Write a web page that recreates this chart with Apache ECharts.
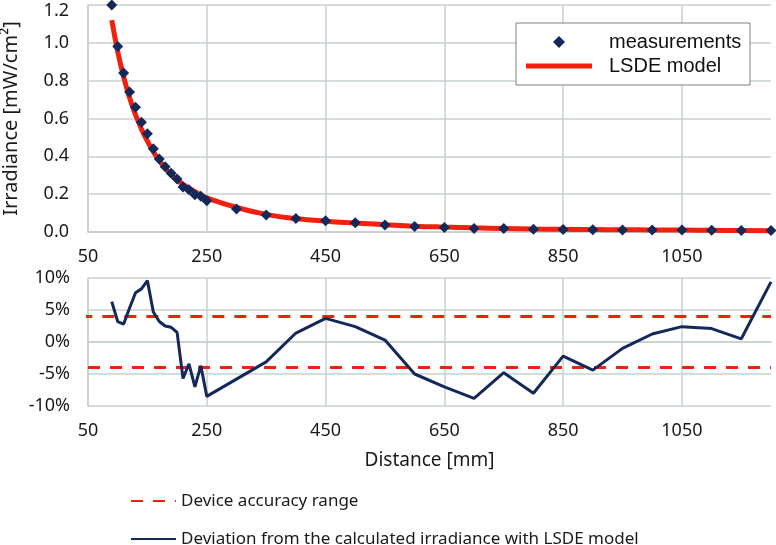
<!DOCTYPE html>
<html>
<head>
<meta charset="utf-8">
<script src="https://cdn.jsdelivr.net/npm/echarts@6/dist/echarts.min.js"></script>
<style>
  html,body{margin:0;padding:0;background:#fff;}
  #chart{width:776px;height:545px;}
</style>
</head>
<body>
<div id="chart"></div>
<script>
'use strict';

/* ---------- data ---------- */
const distance = [90,100,110,120,130,140,150,160,170,180,190,200,210,220,230,240,250,
  300,350,400,450,500,550,600,650,700,750,800,850,900,950,1000,1050,1100,1150,1200];
// measured irradiance, mW/cm2
const measured = [1.20,0.98,0.84,0.74,0.66,0.58,0.52,0.44,0.386,0.345,0.31,0.28,0.238,0.224,0.197,0.189,0.165,
  0.122,0.090,0.072,0.060,0.049,0.037,0.029,0.024,0.019,0.018,0.015,0.013,0.012,0.011,0.011,0.010,0.009,0.008,0.008];
// LSDE model curve, mW/cm2
const model = [1.12,0.955,0.82,0.71,0.62,0.545,0.48,0.425,0.378,0.338,0.303,0.275,0.252,0.232,0.213,0.196,0.180,
  0.130,0.093,0.071,0.057,0.047,0.038,0.031,0.026,0.022,0.019,0.016,0.014,0.013,0.012,0.011,0.010,0.009,0.008,0.007];
// deviation from model, %
const deviation = [6.3,3.2,2.8,5.3,7.7,8.3,9.6,4.7,3.2,2.5,2.3,1.5,-5.7,-3.4,-7.0,-3.7,-8.5,
  -5.8,-3.1,1.4,3.7,2.4,0.3,-5.0,-7.0,-8.8,-4.8,-8.0,-2.2,-4.4,-1.0,1.25,2.4,2.1,0.5,9.4];
// device accuracy band, %
const accUpper = [[0,4],[1200,4]];
const accLower = [[50,-4],[1200,-4]];

const ACC = 'Device accuracy range';
const DEV = 'Deviation from the calculated irradiance with LSDE model';

/* ---------- styling ---------- */
const C = {navy:'#14285a', red:'#f2200c', grid:'#c8d0ce', text:'#1a1a1a'};
const SANS = '"Noto Sans",sans-serif';
const ARIAL = '"Liberation Sans",Arial,sans-serif';

const pair = (xs,ys)=>xs.map((x,i)=>[x,ys[i]]);

const xCommon = {
  type:'value', min:50, max:1200, interval:200,
  axisLine:{show:true,lineStyle:{color:C.grid,width:1.5}},
  axisTick:{show:false},
  axisLabel:{color:C.text,fontFamily:SANS,fontSize:18,margin:16,showMaxLabel:false,formatter:v=>String(v)},
  splitLine:{show:true,showMaxLine:false,lineStyle:{color:C.grid,width:1.5}},
};
const yCommon = {
  type:'value',
  axisLine:{show:true,lineStyle:{color:C.grid,width:1.5}},
  axisTick:{show:false},
  splitLine:{show:true,lineStyle:{color:C.grid,width:1.5}},
};
// bottom legend rows: line sample, no marker
const lowLegend = (name,top)=>({
  data:[name], orient:'vertical', left:125, top, itemWidth:45, itemHeight:14,
  itemStyle:{opacity:0},
  textStyle:{color:C.text,fontFamily:SANS,fontSize:17,lineHeight:20},
});

const chart = echarts.init(document.getElementById('chart'));
chart.setOption({
  animation:false,
  backgroundColor:'#fff',
  grid:[
    {left:88,top:5,width:683,height:227,outerBoundsMode:'none',containLabel:false},
    {left:88,top:278,width:683,height:128,outerBoundsMode:'none',containLabel:false},
  ],
  xAxis:[
    {...xCommon, gridIndex:0},
    {...xCommon, gridIndex:1, name:'Distance [mm]', nameLocation:'middle', nameGap:45,
      nameTextStyle:{color:C.text,fontFamily:SANS,fontSize:19}},
  ],
  yAxis:[
    {...yCommon, gridIndex:0, min:0, max:1.2, interval:0.2,
      axisLabel:{color:C.text,fontFamily:SANS,fontSize:18,margin:19,
        // top label sits a little below its gridline (kept inside the picture)
        formatter:v=>v>=1.19 ? '{top|'+v.toFixed(1)+'}' : v.toFixed(1),
        rich:{top:{fontFamily:SANS,fontSize:18,color:C.text,padding:[12,0,0,0]}}},
      name:'Irradiance [mW/cm²]', nameLocation:'middle', nameGap:67,
      nameTextStyle:{color:C.text,fontFamily:SANS,fontSize:20}},
    {...yCommon, gridIndex:1, min:-10, max:10, interval:5,
      axisLabel:{color:C.text,fontFamily:SANS,fontSize:18,margin:18,formatter:v=>v+'%'}},
  ],
  legend:[
    {data:['measurements'], left:548, top:25, itemWidth:12, itemHeight:12, icon:'diamond',
      itemStyle:{opacity:1},
      textStyle:{color:'#111',fontFamily:ARIAL,fontSize:20,lineHeight:24,padding:[0,0,0,39]}},
    {data:['LSDE model'], left:521, top:49, itemWidth:66, itemHeight:5, icon:'rect',
      textStyle:{color:'#111',fontFamily:ARIAL,fontSize:20,lineHeight:24,padding:[0,0,0,12]}},
    lowLegend(ACC,486),
    lowLegend(DEV,524),
  ],
  graphic:[
    {type:'rect', z:3, shape:{x:516,y:23,width:234,height:62},
      style:{fill:'#fff',stroke:'#808080',lineWidth:1}},
  ],
  series:[
    {name:'LSDE model', type:'line', xAxisIndex:0, yAxisIndex:0, data:pair(distance,model),
      smooth:true, showSymbol:false, symbol:'none', z:2,
      lineStyle:{color:C.red,width:5}, itemStyle:{color:C.red}},
    {name:'measurements', type:'scatter', xAxisIndex:0, yAxisIndex:0, data:pair(distance,measured),
      symbol:'diamond', symbolSize:11, clip:false, z:3, itemStyle:{color:C.navy,opacity:1}},
    {name:ACC, type:'line', xAxisIndex:1, yAxisIndex:1, data:accUpper,
      symbol:'none', showSymbol:false, clip:false, lineStyle:{color:C.red,width:3,type:[12,10]}, itemStyle:{color:C.red}},
    {name:ACC, type:'line', xAxisIndex:1, yAxisIndex:1, data:accLower,
      symbol:'none', showSymbol:false, clip:false, lineStyle:{color:C.red,width:3,type:[12,10]}, itemStyle:{color:C.red}},
    {name:DEV, type:'line', xAxisIndex:1, yAxisIndex:1,
      data:pair(distance,deviation), symbol:'none', showSymbol:false, z:3,
      lineStyle:{color:C.navy,width:3}, itemStyle:{color:C.navy}},
  ],
});
</script>
</body>
</html>
